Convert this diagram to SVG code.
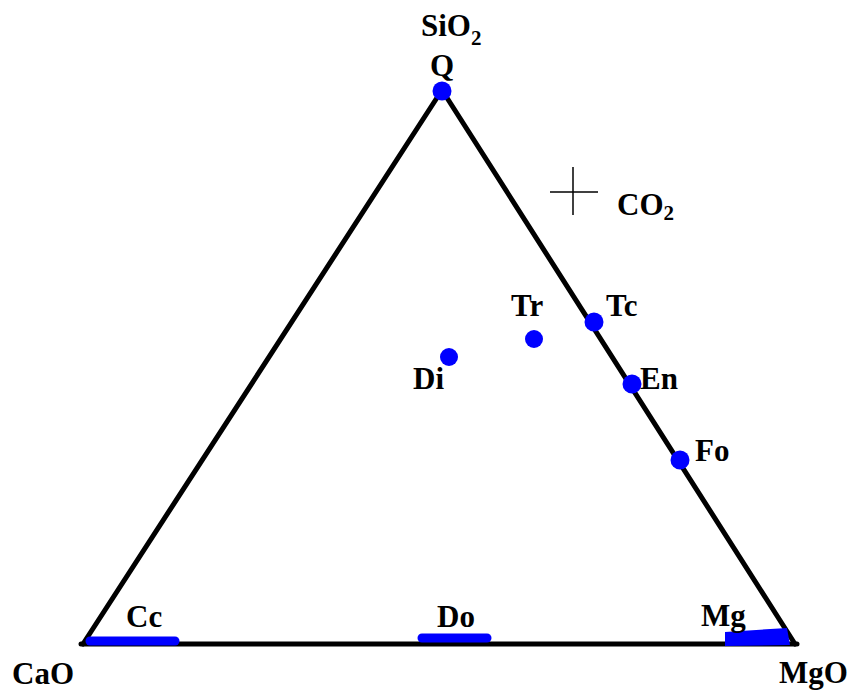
<svg xmlns="http://www.w3.org/2000/svg" width="850" height="691" viewBox="0 0 850 691">
<style>
text{font-family:"Liberation Serif","Times New Roman",serif;font-weight:bold;font-size:31px;fill:#000}
.sub{font-size:21px}
.dot{fill:#0000ff}
.edge{stroke:#000;stroke-width:5;fill:none;stroke-linecap:round}
.bar{stroke:#0000ff;stroke-width:9;stroke-linecap:round;fill:none}
</style>
<rect width="850" height="691" fill="#fff"/>
<g id="connectors">
<line class="edge" x1="442" y1="90" x2="83" y2="644"/>
<line class="edge" x1="442" y1="90" x2="795" y2="644"/>
<line class="edge" x1="81" y1="644" x2="797" y2="644"/>
</g>
<g id="SiO2"><text x="421" y="36">SiO<tspan class="sub" dy="9">2</tspan></text></g>
<g id="CaO"><text x="12" y="684">CaO</text></g>
<g id="MgO"><text x="779" y="683">MgO</text></g>
<g id="CO2"><line x1="573" y1="167" x2="573" y2="215" stroke="#000" stroke-width="1.5"/><line x1="550" y1="192" x2="598" y2="192" stroke="#000" stroke-width="1.5"/><text x="617" y="215">CO<tspan class="sub" dy="5">2</tspan></text></g>
<g id="Q"><circle class="dot" cx="442" cy="91" r="9.5"/><text x="442" y="76" text-anchor="middle">Q</text></g>
<g id="Tr"><circle class="dot" cx="534" cy="339" r="9"/><text x="511" y="316">Tr</text></g>
<g id="Tc"><circle class="dot" cx="594" cy="322" r="9.5"/><text x="606" y="316">Tc</text></g>
<g id="Di"><circle class="dot" cx="449" cy="357" r="9"/><text x="413" y="389">Di</text></g>
<g id="En"><circle class="dot" cx="632" cy="384" r="9.5"/><text x="640" y="389">En</text></g>
<g id="Fo"><circle class="dot" cx="680" cy="460" r="9.5"/><text x="695" y="461">Fo</text></g>
<g id="Cc"><line class="bar" x1="90" y1="641" x2="175" y2="641"/><text x="126" y="627">Cc</text></g>
<g id="Do"><line class="bar" x1="422" y1="638" x2="487" y2="638"/><text x="437" y="627">Do</text></g>
<g id="Mg"><polygon class="dot" points="725,632 787,628 790,645 725,646"/><text x="701" y="626">Mg</text></g>
</svg>
